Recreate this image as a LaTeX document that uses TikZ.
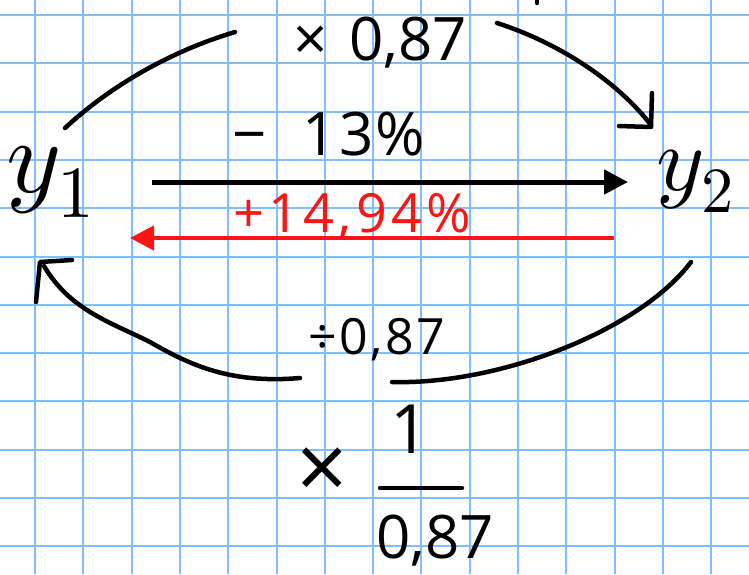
\documentclass[tikz,border=0pt]{standalone}
\usepackage{fontspec}
\usepackage{unicode-math}
\setmainfont{Open Sans}
\setmathfont{Latin Modern Math}
\usetikzlibrary{arrows.meta}
\definecolor{gridblue}{RGB}{128,190,255}
\definecolor{penred}{RGB}{255,20,20}
\begin{document}
\begin{tikzpicture}[x=1pt,y=-1pt,
  pen/.style={line width=4.5pt, line cap=round, line join=round},
  gridline/.style={gridblue, line width=2pt},
  lbl/.style={inner sep=0pt, anchor=base west},
  bigarrow/.style={line width=5pt, -{Triangle[length=24pt,width=24pt]}}]
\useasboundingbox (0,0) rectangle (749,574);
\fill[white] (0,0) rectangle (749,574);
% grid paper
\foreach \i in {0,...,14} \draw[gridline] ({35+48.3*\i},0) -- ({35+48.3*\i},574);
\foreach \j in {0,...,11} \draw[gridline] (0,{15+48.3*\j}) -- (749,{15+48.3*\j});
% main quantities
\node[lbl, font=\fontsize{105}{105}\selectfont] (y1) at (6,192) {$y_1$};
\node[lbl, font=\fontsize{92}{92}\selectfont] (y2) at (656,190) {$y_2$};
% labels
\node[lbl, font=\fontsize{60}{60}\selectfont] (mul) at (293,60) {×\hspace{22pt}0,87};
\node[lbl, font=\fontsize{60}{60}\selectfont\addfontfeature{LetterSpace=4}] (minus) at (232,155) {−\hspace{36pt}13\%};
\node[lbl, text=penred, font=\fontsize{54}{54}\selectfont\addfontfeature{LetterSpace=8}] (plus) at (233,232) {+14,94\%};
\node[lbl, font=\fontsize{50}{50}\selectfont\addfontfeature{LetterSpace=5}] (div) at (308,354) {÷0,87};
\node[inner sep=0pt, font=\fontsize{90}{90}\selectfont] (times) at (322,474) {×};
\node[lbl, font=\fontsize{68}{68}\selectfont] (one) at (390,453) {1};
\node[lbl, font=\fontsize{60}{60}\selectfont] (den) at (376,558) {0,87};
\draw[pen] (380,488) -- (462,488);
% straight arrows
\coordinate (a1) at (152,182);
\coordinate (a2) at (628,182);
\coordinate (r1) at (614,238);
\coordinate (r2) at (130,238);
\draw[bigarrow] (a1) -- (a2);
\draw[bigarrow, penred, line width=4.5pt] (r1) -- (r2);
% top arc (x 0,87)
\draw[pen] (65,128) .. controls (115,82) and (175,50) .. (235,32);
\draw[pen] (497,23) .. controls (565,45) and (620,85) .. (651,125);
\draw[pen] (652,93) -- (651,127) -- (619,126);
% bottom arc (/0,87)
\draw[pen] (691,262) .. controls (640,330) and (500,385) .. (392,382);
\draw[pen] (300,378) .. controls (230,384) and (190,365) .. (150,342) .. controls (110,322) and (70,310) .. (44,266);
\draw[pen] (36,302) -- (40,262) -- (72,260);
% small mark at top
\draw[pen] (537,0) -- (537,3);
\end{tikzpicture}
\end{document}
